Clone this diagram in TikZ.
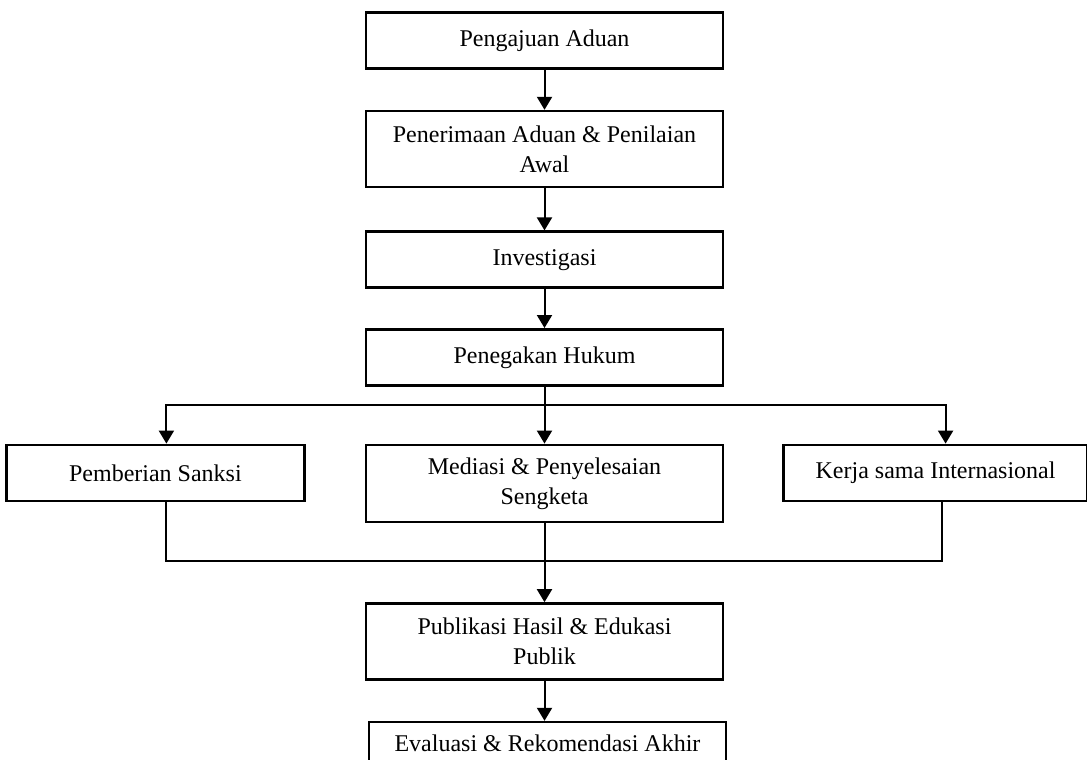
\documentclass[tikz,border=0pt]{standalone}
\usepackage{fontspec}
\setmainfont{Liberation Serif}
\usetikzlibrary{positioning, arrows.meta}
\tikzstyle{process} = [rectangle, minimum width=178.5pt, minimum height=28pt, align=flush center, draw=black, line width=1.3pt, text width=156pt, font=\fontsize{12pt}{15pt}\selectfont]
\tikzstyle{process2} = [process, minimum height=38pt]
\tikzstyle{side} = [process, minimum width=149pt, text width=140pt]
\tikzstyle{line} = [line width=1pt]
\tikzstyle{arrow} = [line width=1pt, -{Triangle[width=7.5pt,length=6.5pt]}]
\begin{document}
\begin{tikzpicture}[node distance=20pt]
\useasboundingbox (0,0) rectangle (543.5pt,-380pt);
\clip (0,0) rectangle (543.5pt,-380pt);
\node (pengajuan) [process] at (272.25pt,-20.25pt) {Pengajuan Aduan};
\node (penerimaan) [process2, below=of pengajuan] {Penerimaan Aduan \& Penilaian Awal};
\node (investigasi) [process, below=21pt of penerimaan] {Investigasi};
\node (penegakan) [process, below=19.5pt of investigasi] {Penegakan Hukum};
\node (mediasi) [process, minimum height=38.5pt, below=28.5pt of penegakan] {Mediasi \& Penyelesaian Sengketa};
\node (sanksi) [side, left=29.5pt of mediasi.north west, anchor=north east] {Pemberian Sanksi};
\node (kerjasama) [side, minimum width=152pt, right=29pt of mediasi.north east, anchor=north west] {Kerja sama Internasional};
\node (publikasi) [process2, below=39.5pt of mediasi] {Publikasi Hasil \& Edukasi Publik};
\node (evaluasi) [process, minimum height=29pt, text depth=8pt, below=of publikasi, xshift=1.5pt] {Evaluasi \& Rekomendasi Akhir};
\coordinate (split) at ([yshift=-9pt]penegakan.south);
\coordinate (merge) at ([yshift=-19pt]mediasi.south);
\draw [arrow] (pengajuan) -- (penerimaan);
\draw [arrow] (penerimaan) -- (investigasi);
\draw [arrow] (investigasi) -- (penegakan);
\draw [arrow] (penegakan) -- (mediasi);
\draw [arrow] (split) -| ([xshift=5.5pt]sanksi.north);
\draw [arrow] (split) -| ([xshift=5pt]kerjasama.north);
\draw [line] ([xshift=5.5pt]sanksi.south) |- (merge) -| ([xshift=3pt]kerjasama.south);
\draw [arrow] (mediasi) -- (publikasi);
\draw [arrow] (publikasi) -- (evaluasi.north -| publikasi.south);
\end{tikzpicture}
\end{document}
